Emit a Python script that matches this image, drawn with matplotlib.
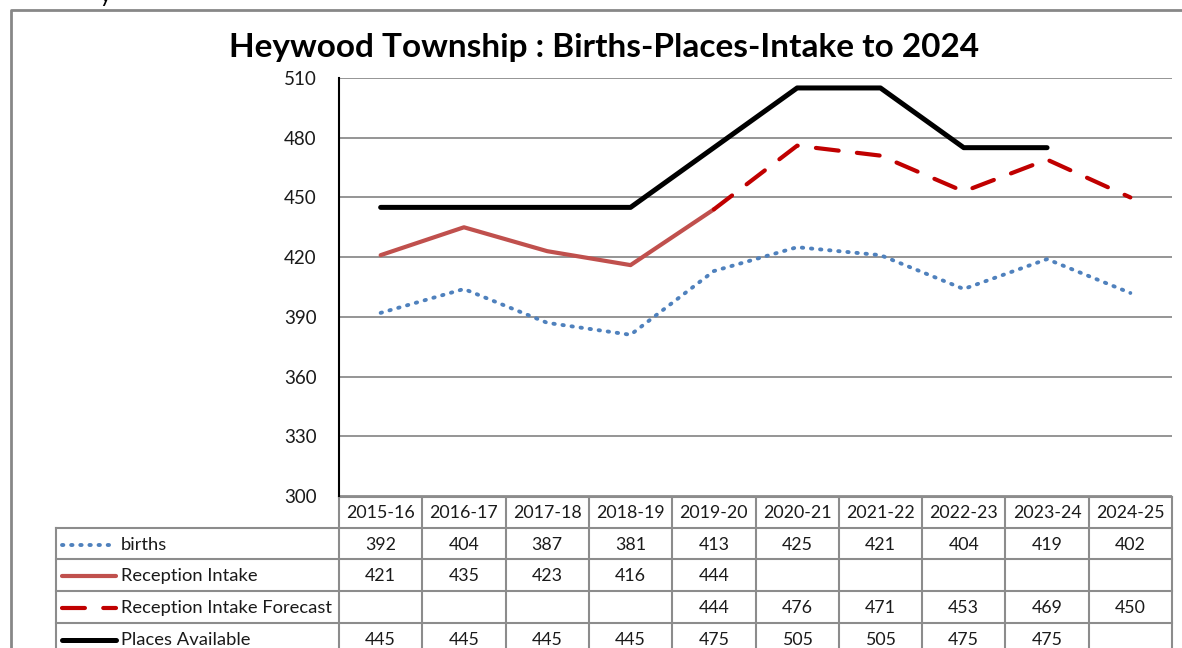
import numpy as np
import matplotlib
matplotlib.use("Agg")
import matplotlib.pyplot as plt

# data
years = ["2015-16", "2016-17", "2017-18", "2018-19", "2019-20",
         "2020-21", "2021-22", "2022-23", "2023-24", "2024-25"]
births = [392, 404, 387, 381, 413, 425, 421, 404, 419, 402]
intake = [421, 435, 423, 416, 444, None, None, None, None, None]
forecast = [None, None, None, None, 444, 476, 471, 453, 469, 450]
places = [445, 445, 445, 445, 475, 505, 505, 475, 475, None]

names = ["births", "Reception Intake", "Reception Intake Forecast", "Places Available"]
series = [births, intake, forecast, places]

plt.rcParams['font.family'] = ['Lato', 'DejaVu Sans']

W, H = 1182, 648
fig = plt.figure(figsize=(W / 100, H / 100), dpi=100)

# background axes in pixel units for frame + data table
bg = fig.add_axes([0, 0, 1, 1])
bg.set_xlim(0, W)
bg.set_ylim(H, 0)
bg.axis("off")

# outer chart border
bg.plot([11, 11, 1182], [660, 10, 10], color="#878787", lw=2, solid_capstyle="butt")

# plot area
x_left, x_right = 339, 1172
y_top, y_bot = 78, 496
ax = fig.add_axes([x_left / W, 1 - y_bot / H, (x_right - x_left) / W, (y_bot - y_top) / H])

n = len(years)
x = np.arange(n)


def arr(v):
    return np.array([np.nan if a is None else a for a in v], dtype=float)


styles = [
    dict(color="#4F81BD", lw=2.8, linestyle=(0, (0.35, 2.0)), dash_capstyle="round"),
    dict(color="#C0504D", lw=3.0, linestyle="-", solid_capstyle="round"),
    dict(color="#C00000", lw=3.0, linestyle=(0, (5.5, 4.4)), dash_capstyle="round"),
    dict(color="#000000", lw=3.6, linestyle="-", solid_capstyle="round"),
]

for vals, st in zip(series, styles):
    ax.plot(x, arr(vals), zorder=3, **st)

ax.set_xlim(-0.5, n - 0.5)
ax.set_ylim(300, 510)
ax.set_yticks(np.arange(300, 511, 30))
ax.set_xticks([])
ax.grid(axis="y", color="#8C8C8C", lw=1.3)
ax.set_axisbelow(True)
for s in ["top", "right", "bottom"]:
    ax.spines[s].set_visible(False)
ax.spines["left"].set_color("black")
ax.spines["left"].set_linewidth(1.5)
ax.tick_params(axis="y", length=0, pad=16, labelsize=13.5, labelcolor="#1a1a1a")

fig.text(604 / W, 1 - 48 / H, "Heywood Township : Births-Places-Intake to 2024",
         ha="center", va="center", fontsize=24, fontweight="bold")

# cut-off text at the very top
fig.text(100 / W, 1 - 2 / H, "y", ha="left", va="baseline", fontsize=16)

# data table
col_w = (x_right - x_left) / n
rows = [497, 528, 559, 591, 623, 655]
grid_c = "#8C8C8C"
# header row
bg.plot([x_left, x_right], [rows[0], rows[0]], color=grid_c, lw=1.5)
for i in range(n + 1):
    xx = x_left + i * col_w
    bg.plot([xx, xx], [rows[0], rows[-1]], color=grid_c, lw=1.5)
for r in rows[1:]:
    bg.plot([56, x_right], [r, r], color=grid_c, lw=1.5)
bg.plot([56, 56], [rows[1], rows[-1]], color=grid_c, lw=1.5)

for i, yr in enumerate(years):
    bg.text(x_left + (i + 0.5) * col_w, (rows[0] + rows[1]) / 2 + 1, yr,
            ha="center", va="center", fontsize=12.8, color="#1a1a1a")

for j, (nm, vals, st) in enumerate(zip(names, series, styles)):
    yc = (rows[j + 1] + rows[j + 2]) / 2 + 1
    bg.plot([62, 116], [yc, yc], **st)
    bg.text(121, yc, nm, ha="left", va="center", fontsize=13.2, color="#1a1a1a")
    for i, v in enumerate(vals):
        if v is not None:
            bg.text(x_left + (i + 0.5) * col_w, yc, str(v),
                    ha="center", va="center", fontsize=12.8, color="#1a1a1a")

fig.savefig("out.png", dpi=100)
